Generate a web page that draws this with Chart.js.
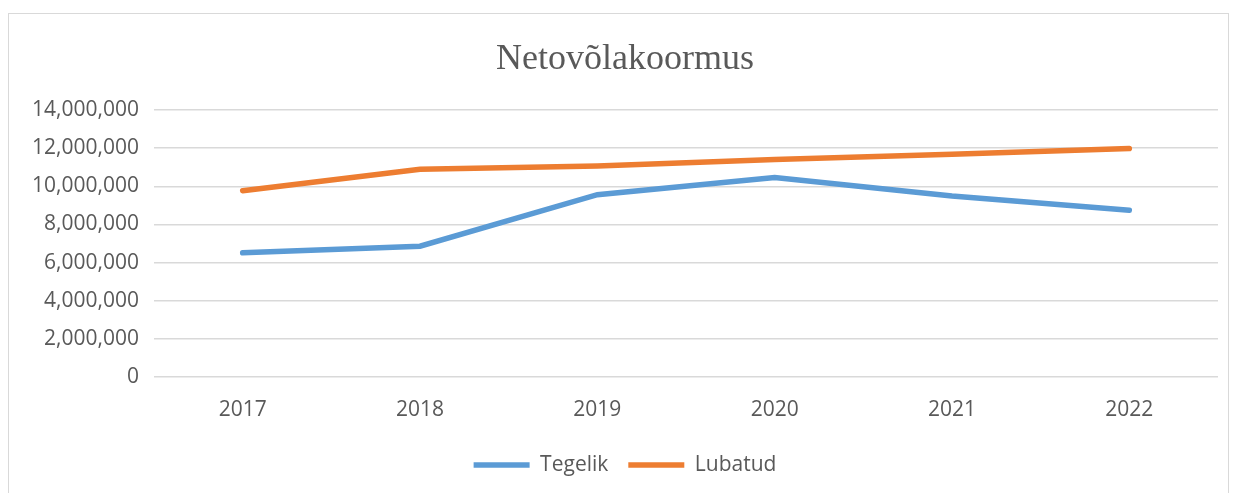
<!DOCTYPE html>
<html>
<head>
<meta charset="utf-8">
<script src="https://cdn.jsdelivr.net/npm/chart.js@4/dist/chart.umd.min.js"></script>
<style>
    html, body { margin: 0; padding: 0; background: #fff; }
    #wrap { position: relative; width: 1236px; height: 493px; }
    #frame {
        position: absolute; left: 8px; top: 13px; width: 1221px; height: 490px;
        border: 1.5px solid #d9d9d9; box-sizing: border-box;
    }
    canvas { position: absolute; left: 0; top: 0; }
</style>
</head>
<body>
<div id="wrap">
    <div id="frame"></div>
    <canvas id="myChart" width="1236" height="493"></canvas>
</div>
<script>
let years = ['2017', '2018', '2019', '2020', '2021', '2022'];

let tegelik = [6510000, 6860000, 9560000, 10460000, 9490000, 8740000];
let lubatud = [9770000, 10890000, 11070000, 11400000, 11680000, 11980000];

let yTicks = [0, 2000000, 4000000, 6000000, 8000000, 10000000, 12000000, 14000000];

Chart.defaults.font.family = "'Open Sans', sans-serif";
Chart.defaults.font.size = 21;
Chart.defaults.color = '#595959';

let ctx = document.getElementById('myChart').getContext('2d');

new Chart(ctx, {
    type: 'line',
    data: {
        labels: years,
        datasets: [{
            label: 'Tegelik',
            data: tegelik,
            borderColor: '#5b9bd5',
            backgroundColor: '#5b9bd5',
            borderWidth: 5.5,
            borderCapStyle: 'round',
            pointRadius: 0,
            tension: 0,
        }, {
            label: 'Lubatud',
            data: lubatud,
            borderColor: '#ed7d31',
            backgroundColor: '#ed7d31',
            borderWidth: 5.5,
            borderCapStyle: 'round',
            pointRadius: 0,
            tension: 0,
        }],
    },
    options: {
        responsive: false,
        animation: false,
        layout: {
            padding: { left: 32, right: 18, top: 0, bottom: 7.5 }
        },
        plugins: {
            title: {
                display: true,
                text: 'Netovõlakoormus',
                color: '#595959',
                font: { family: "'Liberation Serif', serif", size: 36, weight: 'normal' },
                padding: { top: 38, bottom: 28.8 },
            },
            legend: {
                position: 'bottom',
                labels: {
                    usePointStyle: true,
                    pointStyle: 'line',
                    pointStyleWidth: 56,
                    boxHeight: 6,
                    padding: 20,
                    color: '#595959',
                },
            },
            tooltip: { enabled: false },
        },
        scales: {
            x: {
                offset: true,
                grid: { display: false, drawTicks: false },
                border: { display: false },
                ticks: { padding: 20 },
                afterFit: function (scale) { scale.height = 57.5; },
            },
            y: {
                min: 0,
                max: 14000000,
                afterBuildTicks: function (scale) {
                    scale.ticks = yTicks.map(v => ({ value: v }));
                },
                grid: { color: '#d9d9d9', lineWidth: 1.5, drawTicks: false },
                border: { display: false },
                ticks: {
                    padding: 15,
                    callback: function (v) { return v.toLocaleString('en-US'); },
                },
                afterFit: function (scale) { scale.width = 122; },
            },
        },
    },
});
</script>
</body>
</html>
